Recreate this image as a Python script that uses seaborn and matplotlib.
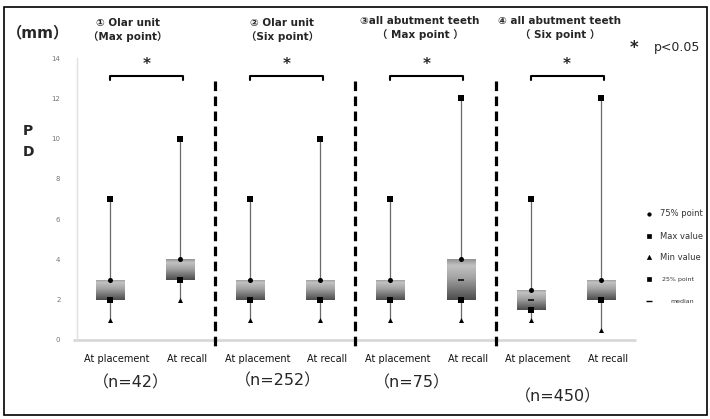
import numpy as np
import pandas as pd
import matplotlib
matplotlib.use("Agg")
import matplotlib.pyplot as plt
import seaborn as sns
from matplotlib.colors import LinearSegmentedColormap
from matplotlib.lines import Line2D
from matplotlib.patches import Rectangle

# ---------------- data ----------------
groups = ["① Olar unit\n（Max point）", "② Olar unit\n（Six point）",
          "③all abutment teeth\n（ Max point ）", "④ all abutment teeth\n（ Six point ）"]
n_labels = ["（n=42）", "（n=252）", "（n=75）", "（n=450）"]
timepoints = ["At placement", "At recall"]
min_vals = [1, 2, 1, 1, 1, 1, 1, 0.5]
q1_vals = [2, 3, 2, 2, 2, 2, 1.5, 2]
median_vals = [2, 3, 2, 2, 2, 3, 2, 2]
q3_vals = [3, 4, 3, 3, 3, 4, 2.5, 3]
max_vals = [7, 10, 7, 10, 7, 12, 7, 12]
yticks = [0, 2, 4, 6, 8, 10, 12, 14]

sns.set_theme(style="white")
plt.rcParams['font.family'] = ['DejaVu Sans', 'Noto Sans CJK JP']

fig = plt.figure(figsize=(7.1, 4.19), dpi=100)
W, H = 710, 419
x_left, x_right = 73, 640
y_bot, y_top = 350, 46
ax = fig.add_axes([x_left / W, 1 - y_bot / H, (x_right - x_left) / W, (y_bot - y_top) / H])
for s in ax.spines.values():
    s.set_visible(False)

positions = np.arange(len(min_vals))
df = pd.DataFrame({
    "pos": positions,
    "label": [t for _ in groups for t in timepoints],
    "min": min_vals, "q1": q1_vals, "med": median_vals, "q3": q3_vals, "max": max_vals,
})

# axis lines
ax.plot([-0.53, 7.5], [0, 0], color="#d8d8d8", lw=2, zorder=1, solid_capstyle="butt")
ax.plot([-0.48, -0.48], [0, 14], color="#e0e0e0", lw=1, zorder=1)

# whiskers
for _, r in df.iterrows():
    ax.plot([r["pos"], r["pos"]], [r["min"], r["max"]], color="#6a6a6a", lw=0.9, zorder=2)

# gradient boxes
cmap = LinearSegmentedColormap.from_list(
    "g", [(0, "#4c4c4c"), (0.55, "#a4a4a4"), (0.85, "#c2c2c2"), (1, "#939393")])
grad = np.linspace(0, 1, 64).reshape(-1, 1)
bw = 0.4
for _, r in df.iterrows():
    x0, x1 = r["pos"] - bw / 2, r["pos"] + bw / 2
    rect = Rectangle((x0, r["q1"]), bw, r["q3"] - r["q1"], facecolor="none", edgecolor="none", zorder=3)
    ax.add_patch(rect)
    im = ax.imshow(grad, cmap=cmap, aspect="auto", origin="lower",
                   extent=(x0, x1, r["q1"], r["q3"]), zorder=3)
    im.set_clip_path(rect)

ax.set_xlim(-0.53, 7.56)
ax.set_ylim(-0.5, 14.6)

# markers
sns.scatterplot(data=df, x="pos", y="max", marker="s", s=18, color="black", linewidth=0, ax=ax, zorder=5)
sns.scatterplot(data=df, x="pos", y="q3", marker="o", s=13, color="black", linewidth=0, ax=ax, zorder=5)
sns.scatterplot(data=df, x="pos", y="q1", marker="s", s=20, color="black", linewidth=0, ax=ax, zorder=5)
sns.scatterplot(data=df, x="pos", y="min", marker="^", s=13, color="black", linewidth=0, ax=ax, zorder=5)
ax.scatter(df["pos"], df["med"], marker="_", s=25, color="black", linewidths=1.1, zorder=6)

# dividers
for d in [1.5, 3.5, 5.5]:
    ax.plot([d, d], [12.85, -0.35], color="black", lw=2.3, linestyle=(0, (3, 1.7)),
            clip_on=False, zorder=4)

# significance brackets
for g in range(4):
    a, b = positions[2 * g], positions[2 * g + 1] + 0.04
    ax.plot([a, a, b, b], [12.9, 13.1, 13.1, 12.9], color="black", lw=1.5, clip_on=False)
    ax.text((a + b) / 2, 13.7, "*", ha="center", va="center", fontsize=11, fontweight="bold")

# ticks
ax.set_yticks(yticks)
ax.set_yticklabels([str(v) for v in yticks], fontsize=5, color="#777777")
ax.tick_params(axis="y", length=0, pad=9)
ax.set_xticks(positions + 0.1)
ax.set_xticklabels(df["label"], fontsize=7, color="#111111")
ax.tick_params(axis="x", length=0, pad=3)
ax.set_xlabel("")
ax.set_ylabel("")

# n labels
n_x = [131, 278, 412, 558]
n_y = [383, 381, 383, 397]
for t, xx, yy in zip(n_labels, n_x, n_y):
    fig.text(xx / W, 1 - yy / H, t, ha="center", va="center", fontsize=11.5)

# group titles
title_pos = [(128, 30), (282, 30), (420, 28), (560, 28)]
for t, (xx, yy) in zip(groups, title_pos):
    fig.text(xx / W, 1 - yy / H, t, ha="center", va="center", fontsize=7.5,
             fontweight="bold", linespacing=1.25)

fig.text(38 / W, 1 - 33 / H, "（mm）", ha="center", va="center", fontsize=11, fontweight="bold")
fig.text(28 / W, 1 - 131 / H, "P", ha="center", va="center", fontsize=10, fontweight="bold")
fig.text(28 / W, 1 - 152 / H, "D", ha="center", va="center", fontsize=10, fontweight="bold")
fig.text(630 / W, 1 - 48 / H, "*", ha="left", va="center", fontsize=12, fontweight="bold")
fig.text(654 / W, 1 - 48 / H, "p<0.05", ha="left", va="center", fontsize=9)

# legend
leg_items = [("o", 2.5, "75% point", 6, 214), ("s", 3.5, "Max value", 6, 236),
             ("^", 3, "Min value", 6, 257), ("s", 3.5, "25% point", 4.5, 279),
             ("_", 5, "median", 4.5, 301)]
for mk, ms, txt, fs, yy in leg_items:
    fig.add_artist(Line2D([649 / W], [1 - yy / H], marker=mk, markersize=ms, color="black",
                          linestyle="none", markeredgewidth=1 if mk == "_" else 0.5))
    xx = 660 if fs > 5 else 662
    if txt == "median":
        xx = 670
    fig.text(xx / W, 1 - yy / H, txt, ha="left", va="center", fontsize=fs, color="#333333")

# outer frame
fig.add_artist(Rectangle((4 / W, 1 - 415 / H), 703 / W, 408 / H, transform=fig.transFigure,
                         fill=False, edgecolor="black", lw=1.2))

fig.savefig("out.png", dpi=100)
